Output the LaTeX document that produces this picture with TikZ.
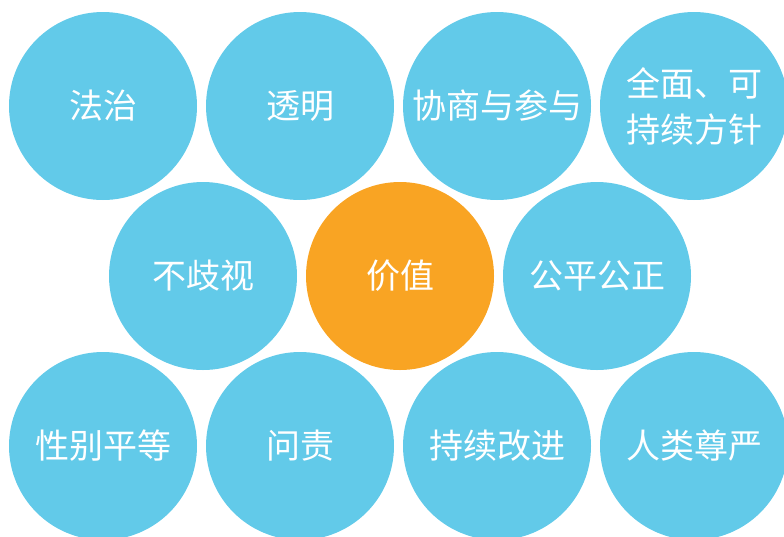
\documentclass[tikz,border=0pt]{standalone}
\usepackage{fontspec}
\newfontfamily\cjkfont{Noto Sans CJK SC}
\usetikzlibrary{positioning}
\definecolor{valueblue}{HTML}{62CAE9}
\definecolor{valueorange}{HTML}{F9A423}
\tikzset{
    circlenode/.style = {circle, draw=none, fill=valueblue, minimum size=188pt, inner sep=0em,
      node distance=0em, text=white, align=center, font=\cjkfont\fontsize{34}{46}\selectfont},
    centrenode/.style = {circlenode, fill=valueorange}
}

\begin{document}
\begin{tikzpicture}[x=1pt, y=1pt, node distance=0em]
    \useasboundingbox (0,0) rectangle (784,-536);
    \clip (0,0) rectangle (784,-536);

    % top row
    \node [name=fazhi, circlenode] at (103,-106) {法治};
    \node [name=touming, circlenode, right of=fazhi, xshift=197pt] {透明};
    \node [name=xieshang, circlenode, right of=touming, xshift=197pt] {协商与参与};
    \node [name=quanmian, circlenode, right of=xieshang, xshift=197pt] {全面、可\\持续方针};

    % middle row
    \node [name=buqishi, circlenode, below of=fazhi, xshift=100pt, yshift=-170pt] {不歧视};
    \node [name=jiazhi, centrenode, right of=buqishi, xshift=197pt] {价值};
    \node [name=gongping, circlenode, right of=jiazhi, xshift=197pt] {公平公正};

    % bottom row
    \node [name=xingbie, circlenode, below of=fazhi, yshift=-340pt] {性别平等};
    \node [name=wenze, circlenode, right of=xingbie, xshift=197pt] {问责};
    \node [name=gaijin, circlenode, right of=wenze, xshift=197pt] {持续改进};
    \node [name=zunyan, circlenode, right of=gaijin, xshift=197pt] {人类尊严};
\end{tikzpicture}
\end{document}
